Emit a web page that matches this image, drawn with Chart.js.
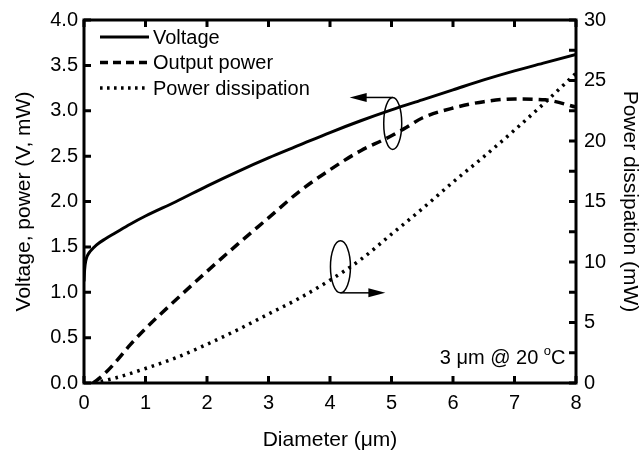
<!DOCTYPE html>
<html lang="en">
<head>
  <meta charset="UTF-8" />
  <title>Voltage, output power and power dissipation vs diameter</title>
  <script src="https://cdn.jsdelivr.net/npm/chart.js"></script>
  <style>
    * { margin: 0; padding: 0; box-sizing: border-box; }
    body { background: #fff; width: 643px; height: 457px; overflow: hidden; }
    canvas { display: block; }
  </style>
</head>
<body>
  <canvas id="chart" width="643" height="457"></canvas>

  <script>
    // (diameter in um)
    const voltageX = [0, 0.01, 0.03, 0.06, 0.1, 0.2, 0.35, 0.5, 0.75, 1, 1.5, 2, 2.5, 3, 3.5, 4, 4.5, 5, 5.5, 6, 6.5, 7, 7.5, 8];
    const voltageY = [1.12, 1.25, 1.35, 1.41, 1.45, 1.52, 1.59, 1.65, 1.75, 1.84, 2.0, 2.17, 2.33, 2.48, 2.62, 2.76, 2.89, 3.01, 3.12, 3.23, 3.34, 3.44, 3.53, 3.62];

    const outputX = [0.15, 0.3, 0.5, 0.75, 1, 1.5, 2, 2.5, 3, 3.5, 4, 4.5, 4.9, 5.2, 5.5, 6, 6.5, 7, 7.5, 8];
    const outputY = [0, 0.08, 0.22, 0.42, 0.6, 0.92, 1.23, 1.53, 1.82, 2.11, 2.35, 2.56, 2.69, 2.8, 2.92, 3.03, 3.1, 3.13, 3.12, 3.04];

    const dissipationX = [0.15, 0.5, 1, 1.5, 2, 2.5, 3, 3.5, 4, 4.5, 5, 5.5, 6, 6.5, 7, 7.5, 8];
    const dissipationY = [0, 0.4, 1.2, 2.1, 3.2, 4.4, 5.7, 7.0, 8.5, 10.2, 12.3, 14.4, 16.6, 18.7, 20.9, 23.2, 25.6];

    const seriesNames = ['Voltage', 'Output power', 'Power dissipation'];
    const seriesDash = [[], [10, 6], [2.6, 5]];
    const legendDash = [[], [8, 5], [2.6, 4.4]];

    // ellipse markers + arrows, in data units of the left axis
    const markers = [
      { x: 5.02, y: 2.86, rx: 9, ry: 26, arrowTo: 4.32, side: 'top' },
      { x: 4.17, y: 1.28, rx: 10, ry: 26, arrowTo: 4.9, side: 'bottom' }
    ];
    const note = { x: 7.83, y: 0.21 };

    const FONT = 'Liberation Sans, Arial, sans-serif';

    function toPoints(xs, ys) {
      return xs.map((x, i) => ({ x: x, y: ys[i] }));
    }

    const framePlugin = {
      id: 'frame',
      afterDatasetsDraw(chart) {
        const ctx = chart.ctx;
        const a = chart.chartArea;
        const sx = chart.scales.x, sy = chart.scales.y, sy1 = chart.scales.y1;
        ctx.save();
        ctx.strokeStyle = '#000';
        ctx.lineWidth = 3;
        ctx.strokeRect(a.left, a.top, a.right - a.left, a.bottom - a.top);

        // inward ticks
        const len = 7;
        ctx.beginPath();
        sx.ticks.forEach(t => {
          const px = sx.getPixelForValue(t.value);
          ctx.moveTo(px, a.bottom); ctx.lineTo(px, a.bottom - len);
          ctx.moveTo(px, a.top); ctx.lineTo(px, a.top + len);
        });
        sy.ticks.forEach(t => {
          const py = sy.getPixelForValue(t.value);
          ctx.moveTo(a.left, py); ctx.lineTo(a.left + len, py);
        });
        sy1.ticks.forEach(t => {
          const py = sy1.getPixelForValue(t.value);
          ctx.moveTo(a.right, py); ctx.lineTo(a.right - len, py);
        });
        ctx.stroke();

        // legend
        ctx.font = '20px ' + FONT;
        ctx.fillStyle = '#000';
        ctx.textBaseline = 'middle';
        seriesNames.forEach((name, i) => {
          const y = a.top + 17 + i * 25.5;
          ctx.beginPath();
          ctx.setLineDash(legendDash[i]);
          ctx.lineWidth = i === 0 ? 3 : 3.5;
          ctx.moveTo(a.left + 16, y);
          ctx.lineTo(a.left + 65, y);
          ctx.stroke();
          ctx.setLineDash([]);
          ctx.fillText(name, a.left + 69, y + 1);
        });

        // ellipses with arrows
        ctx.lineWidth = 1.5;
        markers.forEach(m => {
          const cx = sx.getPixelForValue(m.x);
          const cy = sy.getPixelForValue(m.y);
          const ay = m.side === 'top' ? cy - m.ry : cy + m.ry;
          const tip = sx.getPixelForValue(m.arrowTo);
          const dir = tip < cx ? -1 : 1;
          ctx.beginPath();
          ctx.ellipse(cx, cy, m.rx, m.ry, 0, 0, Math.PI * 2);
          ctx.stroke();
          ctx.beginPath();
          ctx.moveTo(cx, ay);
          ctx.lineTo(tip - dir * 14, ay);
          ctx.stroke();
          ctx.beginPath();
          ctx.moveTo(tip, ay);
          ctx.lineTo(tip - dir * 17, ay - 4.5);
          ctx.lineTo(tip - dir * 17, ay + 4.5);
          ctx.closePath();
          ctx.fill();
        });

        // "3 um @ 20 oC" note
        const nx = sx.getPixelForValue(note.x);
        const ny = sy.getPixelForValue(note.y);
        ctx.textBaseline = 'alphabetic';
        const big = '20px ' + FONT, small = '13px ' + FONT;
        const p1 = '3 \u03bcm @ 20 ', p2 = 'o', p3 = 'C';
        ctx.font = big;
        const w1 = ctx.measureText(p1).width, w3 = ctx.measureText(p3).width;
        ctx.font = small;
        const w2 = ctx.measureText(p2).width;
        let x0 = nx - (w1 + w2 + w3);
        ctx.font = big;
        ctx.fillText(p1, x0, ny);
        ctx.font = small;
        ctx.fillText(p2, x0 + w1, ny - 9);
        ctx.font = big;
        ctx.fillText(p3, x0 + w1 + w2, ny);
        ctx.restore();
      }
    };

    const ctx = document.getElementById('chart').getContext('2d');
    new Chart(ctx, {
      type: 'line',
      data: {
        datasets: [
          { label: seriesNames[0], data: toPoints(voltageX, voltageY), yAxisID: 'y', borderDash: seriesDash[0], borderWidth: 3 },
          { label: seriesNames[1], data: toPoints(outputX, outputY), yAxisID: 'y', borderDash: seriesDash[1], borderWidth: 3.5 },
          { label: seriesNames[2], data: toPoints(dissipationX, dissipationY), yAxisID: 'y1', borderDash: seriesDash[2], borderWidth: 3.5 }
        ].map(d => Object.assign(d, {
          borderColor: '#000',
          pointRadius: 0,
          fill: false,
          cubicInterpolationMode: 'monotone'
        }))
      },
      options: {
        responsive: false,
        animation: false,
        devicePixelRatio: 1,
        layout: { padding: { top: 18, left: 0, right: 0, bottom: 0 } },
        plugins: { legend: { display: false }, tooltip: { enabled: false } },
        scales: {
          x: {
            type: 'linear', min: 0, max: 8,
            grid: { display: false, drawTicks: false },
            border: { display: false },
            ticks: { stepSize: 1, color: '#000', font: { family: FONT, size: 20 }, padding: 8 },
            title: { display: true, text: 'Diameter (\u03bcm)', color: '#000', font: { family: FONT, size: 21 }, padding: { top: 6 } },
            afterFit(s) { s.height = 74; }
          },
          y: {
            position: 'left', min: 0, max: 4,
            grid: { display: false, drawTicks: false },
            border: { display: false },
            ticks: { stepSize: 0.5, color: '#000', font: { family: FONT, size: 20 }, padding: 6, callback: v => v.toFixed(1) },
            title: { display: true, text: 'Voltage, power (V, mW)', color: '#000', font: { family: FONT, size: 21 }, padding: { top: 12 } },
            afterFit(s) { s.width = 84; }
          },
          y1: {
            position: 'right', min: 0, max: 30,
            grid: { display: false, drawTicks: false },
            border: { display: false },
            ticks: { stepSize: 2.5, color: '#000', font: { family: FONT, size: 20 }, padding: 8, callback: v => (v % 5 === 0 ? String(v) : '') },
            title: { display: true, text: 'Power dissipation (mW)', color: '#000', font: { family: FONT, size: 21 }, padding: { top: 1 } },
            afterFit(s) { s.width = 67; }
          }
        }
      },
      plugins: [framePlugin]
    });
  </script>
</body>
</html>
